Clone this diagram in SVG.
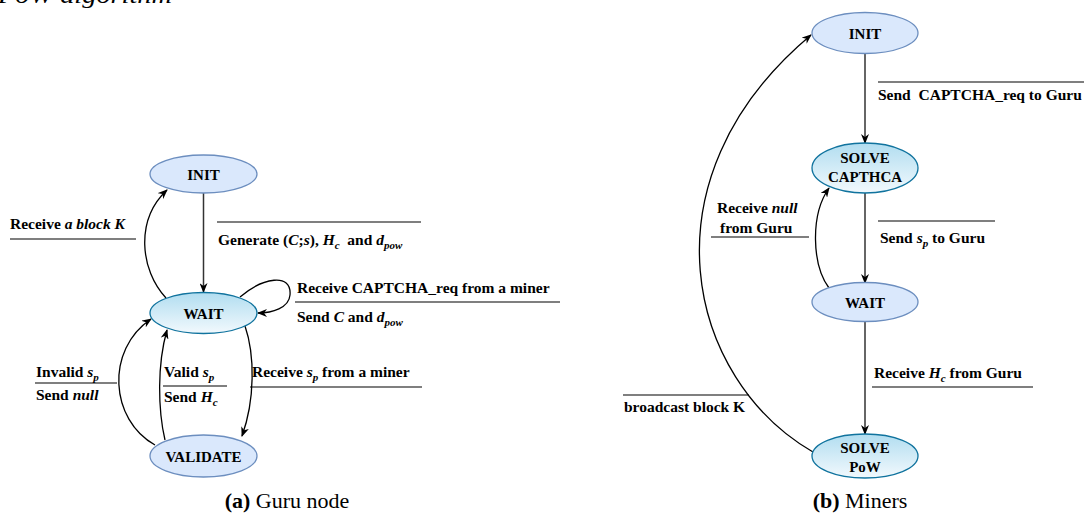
<svg xmlns="http://www.w3.org/2000/svg" width="1084" height="521" viewBox="0 0 1084 521">
<defs>
<linearGradient id="grad" x1="0" y1="0" x2="0" y2="1">
<stop offset="0" stop-color="#b1ddf0"/>
<stop offset="1" stop-color="#f2f9fd"/>
</linearGradient>
<marker id="arr" viewBox="0 0 10 8" refX="9" refY="4" markerWidth="10" markerHeight="8" markerUnits="userSpaceOnUse" orient="auto">
<path d="M0,0 L10,4 L0,8 L3,4 z" fill="#000"/>
</marker>
</defs>
<style>
text{font-family:"Liberation Serif","Times New Roman",serif;fill:#000;}
.lbl{font-size:15.5px;font-weight:bold;}
.nd{font-size:15px;font-weight:bold;text-anchor:middle;}
.i{font-style:italic;}
.sub{font-size:11px;font-style:italic;}
.plain{fill:#dae8fc;stroke:#6c8ebf;stroke-width:1.3;}
.grad{fill:url(#grad);stroke:#10739e;stroke-width:1.3;}
.edge{fill:none;stroke:#000;stroke-width:1.3;marker-end:url(#arr);}
.vedge{fill:none;stroke:#333;stroke-width:1.5;marker-end:url(#arr);}
.bar{stroke:#000;stroke-width:1.2;}
.cap{font-size:22px;}
</style>
<rect width="1084" height="521" fill="#fff"/>
<text x="-2" y="3" class="i" style="font-size:24px" textLength="174" lengthAdjust="spacingAndGlyphs">PoW algorithm</text>

<g id="connectors">
<line class="vedge" x1="203.5" y1="193" x2="203.5" y2="292"/>
<path class="edge" d="M166,298 C140,270 135,220 167,190"/>
<path class="edge" d="M240,297 C262,278 292,272 290,295 C289,308 272,313 258,313"/>
<path class="edge" d="M245,326 C255,355 255,400 242,436"/>
<path class="edge" d="M165,440 C158,410 157,365 167,330"/>
<path class="edge" d="M155,445 C110,420 105,350 151,319"/>
<line class="vedge" x1="865" y1="53.5" x2="865" y2="143"/>
<line class="vedge" x1="865" y1="193" x2="865" y2="283"/>
<line class="vedge" x1="865" y1="322" x2="865" y2="434"/>
<path class="edge" d="M829,288 C812,265 810,215 829,188"/>
<path class="edge" d="M813,452 C688,380 638,180 811,35"/>
</g>

<g id="labels">
<text class="lbl" x="10" y="229">Receive <tspan class="i">a block K</tspan></text>
<line class="bar" x1="10" y1="239" x2="136" y2="239"/>
<line class="bar" x1="217" y1="222" x2="421" y2="222"/>
<text class="lbl" x="218" y="245" xml:space="preserve">Generate (<tspan class="i">C</tspan>;<tspan class="i">s</tspan>), <tspan class="i">H</tspan><tspan class="sub" dy="4">c</tspan><tspan dy="-4">  and </tspan><tspan class="i">d</tspan><tspan class="sub" dy="4">pow</tspan></text>
<text class="lbl" x="297" y="293">Receive CAPTCHA_req from a miner</text>
<line class="bar" x1="295" y1="302" x2="560" y2="302"/>
<text class="lbl" x="297" y="322">Send <tspan class="i">C</tspan> and <tspan class="i">d</tspan><tspan class="sub" dy="4">pow</tspan></text>
<text class="lbl" x="36" y="377">Invalid <tspan class="i">s</tspan><tspan class="sub" dy="4">p</tspan></text>
<line class="bar" x1="35" y1="383" x2="117" y2="383"/>
<text class="lbl" x="36" y="400">Send <tspan class="i">null</tspan></text>
<text class="lbl" x="164" y="377">Valid <tspan class="i">s</tspan><tspan class="sub" dy="4">p</tspan></text>
<line class="bar" x1="163" y1="386" x2="227" y2="386"/>
<text class="lbl" x="164" y="402">Send <tspan class="i">H</tspan><tspan class="sub" dy="4">c</tspan></text>
<text class="lbl" x="252" y="377">Receive <tspan class="i">s</tspan><tspan class="sub" dy="4">p</tspan><tspan dy="-4"> from a miner</tspan></text>
<line class="bar" x1="250" y1="387" x2="422" y2="387"/>

<line class="bar" x1="878" y1="82" x2="1084" y2="82"/>
<text class="lbl" x="878" y="100" xml:space="preserve">Send  CAPTCHA_req to Guru</text>
<text class="lbl" x="717" y="213">Receive <tspan class="i">null</tspan></text>
<text class="lbl" x="720" y="233">from Guru</text>
<line class="bar" x1="711" y1="237" x2="809" y2="237"/>
<line class="bar" x1="878" y1="221" x2="995" y2="221"/>
<text class="lbl" x="880" y="243">Send <tspan class="i">s</tspan><tspan class="sub" dy="4">p</tspan><tspan dy="-4"> to Guru</tspan></text>
<text class="lbl" x="874" y="378">Receive <tspan class="i">H</tspan><tspan class="sub" dy="4">c</tspan><tspan dy="-4"> from Guru</tspan></text>
<line class="bar" x1="872" y1="387" x2="1033" y2="387"/>
<line class="bar" x1="623" y1="395" x2="749" y2="395"/>
<text class="lbl" x="624" y="412">broadcast block K</text>
</g>

<g id="guru-init">
<ellipse class="plain" cx="203.5" cy="174" rx="53.5" ry="19"/>
<text class="nd" x="203.5" y="179.5">INIT</text>
</g>
<g id="guru-wait">
<ellipse class="grad" cx="203.5" cy="313" rx="53.5" ry="20.5"/>
<text class="nd" x="203.5" y="318.5">WAIT</text>
</g>
<g id="guru-validate">
<ellipse class="plain" cx="203.5" cy="456" rx="53.5" ry="21"/>
<text class="nd" x="203.5" y="461.5">VALIDATE</text>
</g>

<g id="miner-init">
<ellipse class="plain" cx="865" cy="33" rx="53" ry="20.5"/>
<text class="nd" x="865" y="38.5">INIT</text>
</g>
<g id="miner-solve-captcha">
<ellipse class="grad" cx="865" cy="168" rx="53" ry="25"/>
<text class="nd" x="865" y="163">SOLVE</text>
<text class="nd" x="865" y="182">CAPTHCA</text>
</g>
<g id="miner-wait">
<ellipse class="plain" cx="865" cy="302" rx="53" ry="19.5"/>
<text class="nd" x="865" y="307.5">WAIT</text>
</g>
<g id="miner-solve-pow">
<ellipse class="grad" cx="865" cy="456" rx="53" ry="22"/>
<text class="nd" x="865" y="453">SOLVE</text>
<text class="nd" x="865" y="472">PoW</text>
</g>

<text class="cap" x="287" y="508" text-anchor="middle"><tspan font-weight="bold">(a)</tspan> Guru node</text>
<text class="cap" x="860" y="508" text-anchor="middle"><tspan font-weight="bold">(b)</tspan> Miners</text>
</svg>
